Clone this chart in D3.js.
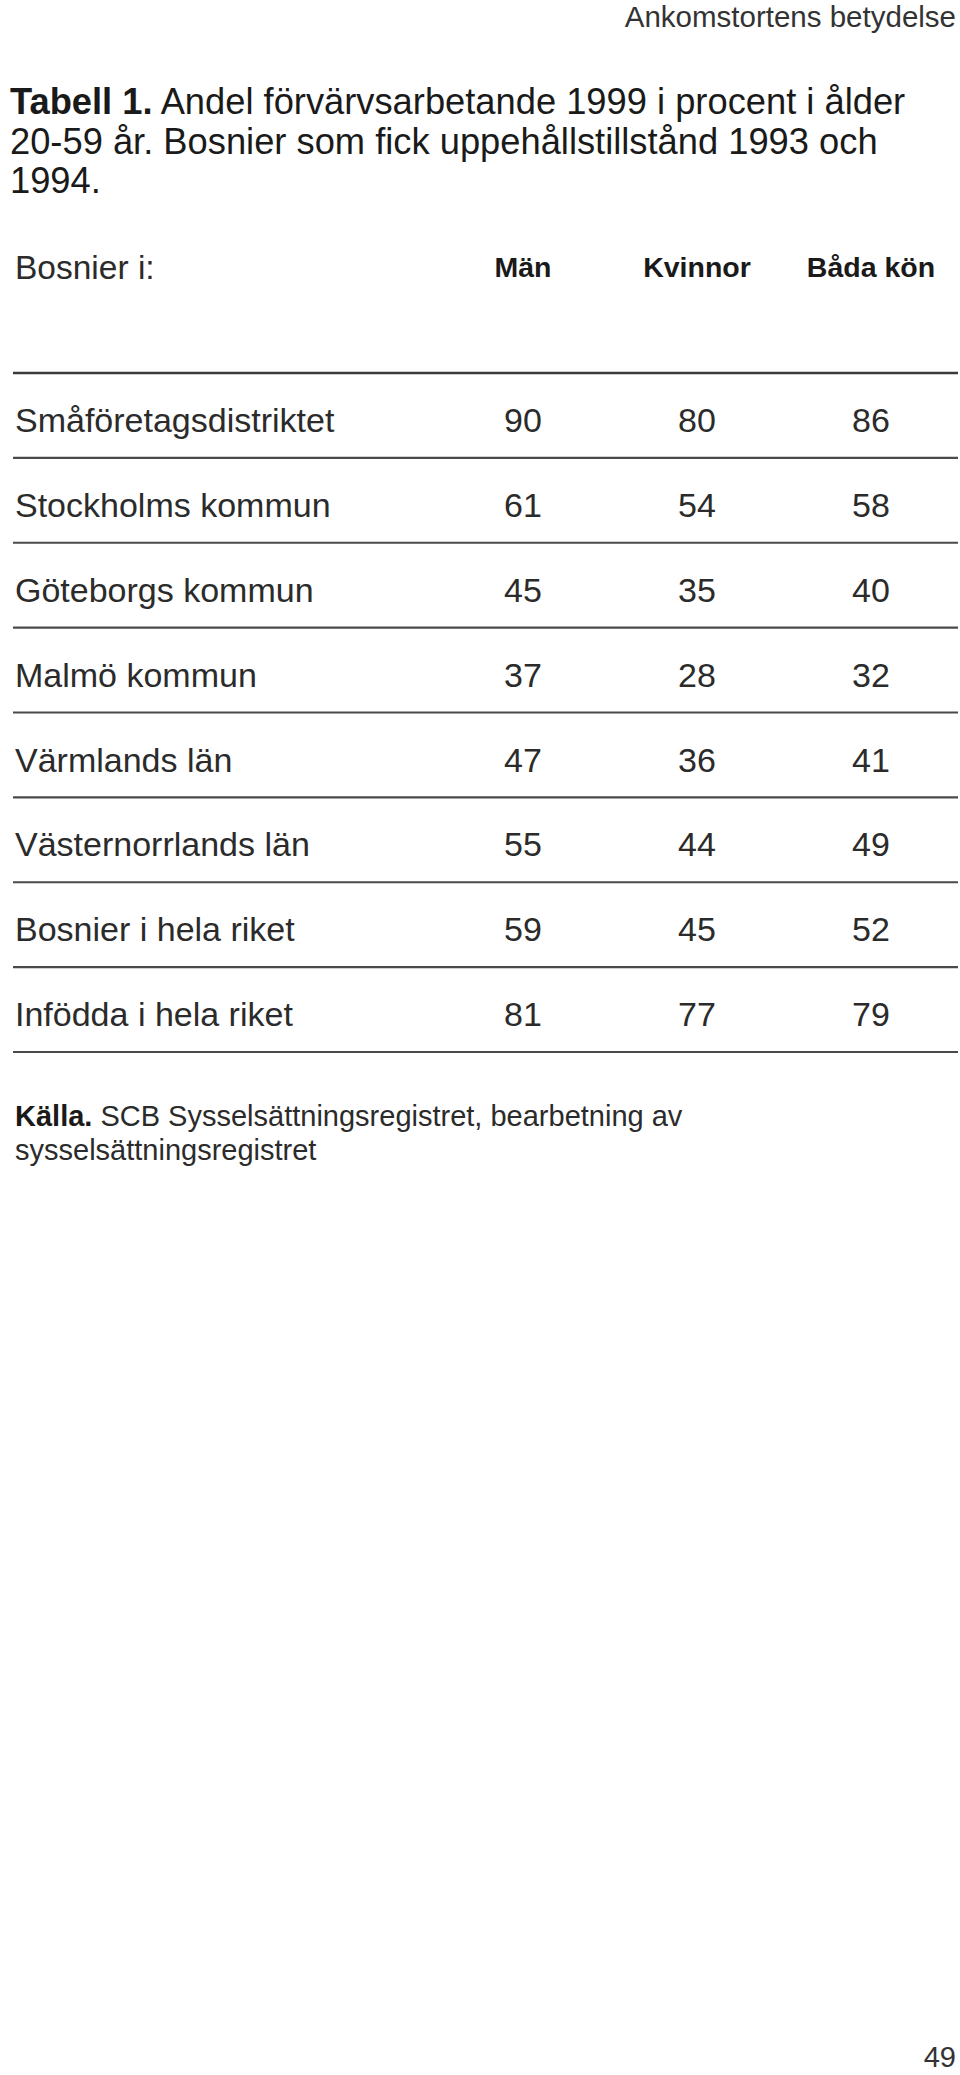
<!DOCTYPE html>
<meta charset="utf-8">
<style>
body { margin: 0; background: #fff; }
svg { display: block; }
text { font-family: "Liberation Sans", Arial, sans-serif; }
.light { fill: #2b2b2b; }
.bold { font-weight: bold; fill: #1a1a1a; }
</style>
<body>
<script src="https://d3js.org/d3.v7.min.js"></script>
<script>
'use strict';

// table content
const pageHeader = "Ankomstortens betydelse";
const titleBold = "Tabell 1.";
const titleLines = [
  " Andel förvärvsarbetande 1999 i procent i ålder",
  "20-59 år. Bosnier som fick uppehållstillstånd 1993 och",
  "1994."
];
const stubHeader = "Bosnier i:";
const columns = ["Män", "Kvinnor", "Båda kön"];
const regions = [
  "Småföretagsdistriktet",
  "Stockholms kommun",
  "Göteborgs kommun",
  "Malmö kommun",
  "Värmlands län",
  "Västernorrlands län",
  "Bosnier i hela riket",
  "Infödda i hela riket"
];
const men   = [90, 61, 45, 37, 47, 55, 59, 81];
const women = [80, 54, 35, 28, 36, 44, 45, 77];
const both  = [86, 58, 40, 32, 41, 49, 52, 79];
const sourceBold = "Källa.";
const sourceLines = [
  " SCB Sysselsättningsregistret, bearbetning av",
  "sysselsättningsregistret"
];
const pageNumber = "49";

const width = 960, height = 2075;

const svg = d3.select("body").append("svg")
    .attr("width", width)
    .attr("height", height);

const rows = regions.map((r, i) => ({region: r, values: [men[i], women[i], both[i]]}));

const y = d3.scaleBand().domain(regions).range([373, 1052]).padding(0);
const x = d3.scaleBand().domain(columns).range([436, 958]).padding(0);
const lineX = [13, 958];

// running header
svg.append("text")
    .attr("class", "light")
    .attr("x", 956).attr("y", 27)
    .attr("text-anchor", "end")
    .style("font-size", "29.5px")
    .style("fill", "#333")
    .text(pageHeader);

// title
const title = svg.append("g").style("font-size", "36.3px");
titleLines.forEach((t, i) => {
  const tx = title.append("text")
      .attr("x", 10)
      .attr("y", 114 + i * 39.5)
      .style("fill", "#1a1a1a");
  if (i === 0) tx.append("tspan").attr("font-weight", "bold").text(titleBold);
  tx.append("tspan").text(t);
});

// column heads
svg.append("text")
    .attr("class", "light")
    .attr("x", 15).attr("y", 279)
    .style("font-size", "33.5px")
    .text(stubHeader);

svg.selectAll("text.colhead")
  .data(columns)
  .enter().append("text")
    .attr("class", "colhead bold")
    .attr("x", d => x(d) + x.bandwidth() / 2)
    .attr("y", 277)
    .attr("text-anchor", "middle")
    .style("font-size", "28.5px")
    .text(d => d);

// rules
svg.append("line")
    .attr("x1", lineX[0]).attr("x2", lineX[1])
    .attr("y1", y(regions[0])).attr("y2", y(regions[0]))
    .attr("stroke", "#3a3a3a")
    .attr("stroke-width", 2.6);

svg.selectAll("line.rule")
  .data(regions)
  .enter().append("line")
    .attr("class", "rule")
    .attr("x1", lineX[0]).attr("x2", lineX[1])
    .attr("y1", d => y(d) + y.bandwidth())
    .attr("y2", d => y(d) + y.bandwidth())
    .attr("stroke", "#4a4a4a")
    .attr("stroke-width", 2.2);

// body rows
const row = svg.selectAll("g.row")
  .data(rows)
  .enter().append("g")
    .attr("class", "row")
    .attr("transform", d => `translate(0,${y(d.region) + 59})`)
    .style("font-size", "34px");

row.append("text")
    .attr("class", "light")
    .attr("x", 15)
    .text(d => d.region);

row.selectAll("text.val")
  .data(d => d.values.map((v, j) => ({col: columns[j], v: v})))
  .enter().append("text")
    .attr("class", "val light")
    .attr("x", d => x(d.col) + x.bandwidth() / 2)
    .attr("text-anchor", "middle")
    .text(d => d.v);

// source note
const src = svg.append("g").style("font-size", "29px");
sourceLines.forEach((t, i) => {
  const tx = src.append("text")
      .attr("x", 15)
      .attr("y", 1126 + i * 34)
      .style("fill", "#2b2b2b");
  if (i === 0) tx.append("tspan").attr("font-weight", "bold").style("fill", "#1a1a1a").text(sourceBold);
  tx.append("tspan").text(t);
});

// page number
svg.append("text")
    .attr("class", "light")
    .attr("x", 956).attr("y", 2067)
    .attr("text-anchor", "end")
    .style("font-size", "29px")
    .style("fill", "#333")
    .text(pageNumber);
</script>
</body>
